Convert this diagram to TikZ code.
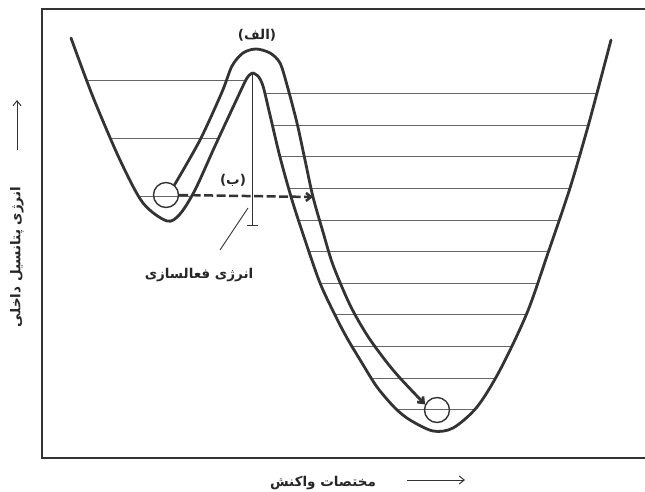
\documentclass[tikz,border=0pt]{standalone}
\usepackage{fontspec}
\usetikzlibrary{arrows.meta}
\newfontfamily\arabicfont[Script=Arabic]{DejaVu Sans}
\TeXXeTstate=1

\begin{document}
\begin{tikzpicture}[x=1pt, y=-1pt, >={Straight Barb[length=5pt,width=8pt]},
    curve/.style={line width=2.8pt, draw=black!80, line join=round, line cap=round},
    level/.style={line width=0.8pt, draw=black!60},
    ball/.style={circle, draw=black!80, line width=1.4pt, minimum size=25pt, inner sep=0pt},
    lbl/.style={font=\arabicfont\bfseries\fontsize{13.5}{16}\selectfont, text=black!85, inner sep=1pt}]
    \useasboundingbox (0,0) rectangle (645,491);
    \draw[line width=1.3pt, black!80] (650,9) -- (42,9) -- (42,458) -- (650,458);
    % levels in the two wells
    \begin{scope}
        \clip plot[smooth] coordinates {(71,38) (93,97) (120,160) (143,203) (167,221)
            (180,214) (195,190) (215,146) (235,103) (247,78) (252.7,73)} -- cycle;
        \foreach \y in {80,138,196} \draw[level] (60,\y) -- (260,\y);
    \end{scope}
    \begin{scope}
        \clip plot[smooth] coordinates {(252.7,73) (258,76) (263,86) (270,115) (280,157)
            (292,200) (305,240) (320,283) (335,315) (347,338) (362,363) (377,387) (395,408)
            (410,420) (433,431) (453,428) (477,407) (500,370) (527,313) (548,253) (570,188)
            (587,130) (597,93) (611,40)} -- cycle;
        \foreach \y in {93,125,156,188,220,251,283,314,346,378,409} \draw[level] (250,\y) -- (620,\y);
    \end{scope}
    % potential curve
    \draw[curve] plot[smooth] coordinates {(71,38) (93,97) (120,160) (143,203) (167,221)
            (180,214) (195,190) (215,146) (235,103) (247,78) (252.7,73)}
        plot[smooth] coordinates {(252.7,73) (258,76) (263,86) (270,115) (280,157)
            (292,200) (305,240) (320,283) (335,315) (347,338) (362,363) (377,387) (395,408)
            (410,420) (433,431) (453,428) (477,407) (500,370) (527,313) (548,253) (570,188)
            (587,130) (597,93) (611,40)};
    \node[ball] (ballL) at (166,195) {};
    \node[ball] (ballR) at (437,410) {};
    \draw[curve, ->] plot[smooth] coordinates {(ballL.50) (200,140) (222,92) (232,66)
        (243,53) (256,49) (270,53) (280,63) (287,85) (297,123) (305,160) (313,197)
        (323,232) (333,265) (350,305) (367,335) (385,360) (400,378) (ballR.155)};
    % tunnelling and activation energy
    \coordinate (tunnel) at (313,197);
    \draw[curve, line width=2.5pt, line cap=butt, dash pattern=on 9pt off 3.5pt, ->] (ballL.east) -- (tunnel);
    \coordinate (top) at (252.7,73);
    \coordinate (base) at (252.7,225);
    \draw[line width=0.9pt, black!80] (top) -- (base) ++(-5.5,0) -- ++(11,0);
    \node[lbl] (alef) at (257,35) {\beginR(الف)\endR};
    \node[lbl] (be) at (233,180) {\beginR(ب)\endR};
    \node[lbl] (act) at (199,275) {\beginR انرژی فعالسازی\endR};
    \coordinate (lead) at (248,208);
    \draw[line width=0.9pt, black!80] (220,250) -- (lead);
    % axes
    \node[lbl, rotate=90] (ylab) at (17,257) {\beginR انرژی پتانسیل داخلی\endR};
    \node[lbl] (xlab) at (323,483) {\beginR مختصات واکنش\endR};
    \coordinate (yup) at (17,100);
    \coordinate (xright) at (465,480);
    \draw[->, line width=1pt, black!80] (17,150) -- (yup);
    \draw[->, line width=1pt, black!80] (407,480) -- (xright);
\end{tikzpicture}
\end{document}
